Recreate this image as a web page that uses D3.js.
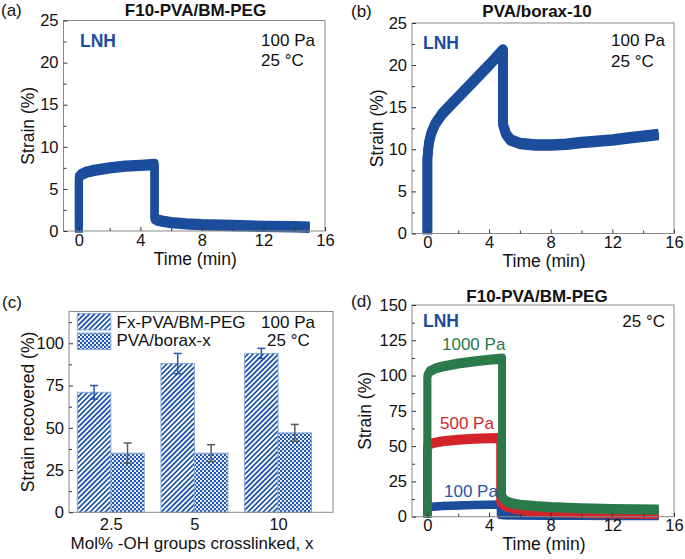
<!DOCTYPE html>
<html><head><meta charset="utf-8">
<script src="https://cdn.jsdelivr.net/npm/d3@7"></script>
<style>
body{margin:0;background:#fff}
svg{display:block}
text{font-family:'Liberation Sans',Arial,sans-serif;fill:#111}
</style>
</head><body>
<svg id="chart" width="685" height="559"></svg>
<script>
// ---------------- data ----------------
const timeTicks = [0, 4, 8, 12, 16];
const strainTicksAB = [0, 5, 10, 15, 20, 25];
const strainTicksD = [0, 25, 50, 75, 100, 125, 150];
const recoveredTicks = [0, 25, 50, 75, 100];

// (a) F10-PVA/BM-PEG, 100 Pa
const aTime   = [0, 0, 0.15, 0.5, 1, 2, 3, 4, 4.92, 4.92, 5.1, 5.5, 6, 7, 8, 10, 12, 14, 15];
const aStrain = [0, 6.4, 6.7, 7.0, 7.2, 7.5, 7.7, 7.8, 7.9, 1.5, 1.3, 1.15, 1.0, 0.85, 0.75, 0.65, 0.55, 0.5, 0.45];

// (b) PVA/borax-10, 100 Pa
const bTime   = [0, 0, 0.1, 0.25, 0.5, 1, 2, 3, 4, 4.9, 4.9, 5.1, 5.4, 6, 7, 8, 9, 10, 11, 12, 13, 14, 15];
const bStrain = [0, 9, 10.8, 11.9, 13.0, 14.3, 16.2, 18.1, 20.0, 21.8, 13, 11.8, 11.1, 10.7, 10.5, 10.5, 10.6, 10.8, 10.95, 11.1, 11.35, 11.55, 11.75];

// (c) strain recovered
const categories = ["2.5", "5", "10"];
const fxRecovered = [71, 88, 94];
const fxError = [4, 6, 3];
const boraxRecovered = [35, 35, 47];
const boraxError = [6, 5, 5];
const seriesNames = ["Fx-PVA/BM-PEG", "PVA/borax-x"];

// (d) F10-PVA/BM-PEG at three stresses
const dTime100   = [0, 0, 0.3, 1, 2, 3, 4, 4.75, 4.75, 5, 6, 8, 10, 12, 15];
const dStrain100 = [0, 6.5, 7, 7.5, 8, 8.3, 8.5, 8.6, 1.2, 1.0, 0.8, 0.7, 0.6, 0.55, 0.5];
const dTime500   = [0, 0, 0.2, 0.5, 1, 2, 3, 4, 4.75, 4.75, 5, 5.5, 6, 7, 8, 10, 12, 15];
const dStrain500 = [0, 50, 51.5, 52.5, 53.5, 54.5, 55.2, 55.6, 55.8, 10, 8, 6, 4.8, 3.7, 3.1, 2.6, 2.3, 2.0];
const dTime1000   = [0, 0, 0.15, 0.5, 1, 2, 3, 4, 4.85, 4.85, 5.1, 5.5, 6, 7, 8, 10, 12, 15];
const dStrain1000 = [0, 100, 103, 105, 106.5, 108.5, 110, 111.2, 112, 14, 11, 9.5, 8.5, 7.5, 6.8, 6.0, 5.5, 5.0];

// ---------------- style ----------------
const BLUE = "#1b4d9c", GREEN = "#2b7a4c", RED = "#d3242b", FRAME = "#8a8a8a";
const svg = d3.select("#chart");

function frame(g, x0, x1, y0, y1) {
  g.append("rect").attr("x", x0).attr("y", y0).attr("width", x1 - x0).attr("height", y1 - y0)
    .attr("fill", "none").attr("stroke", FRAME).attr("stroke-width", 1);
}

function yAxis(g, y, x0, ticks, minorStep, maxV) {
  const minor = d3.range(minorStep, maxV, minorStep).filter(v => !ticks.includes(v));
  g.append("g").attr("transform", `translate(${x0},0)`)
    .call(d3.axisLeft(y).tickValues(ticks).tickSizeInner(-4).tickSizeOuter(0).tickPadding(5))
    .call(s => { s.select(".domain").remove(); s.selectAll("text").style("font-size", "16.5px").attr("fill", "#111"); s.selectAll("line").attr("stroke", "#333"); });
  g.append("g").attr("transform", `translate(${x0},0)`)
    .call(d3.axisLeft(y).tickValues(minor).tickSizeInner(-3).tickSizeOuter(0).tickFormat(""))
    .call(s => { s.select(".domain").remove(); s.selectAll("line").attr("stroke", "#333"); });
}

function xTimeAxis(g, x, y1) {
  g.append("g").attr("transform", `translate(0,${y1})`)
    .call(d3.axisBottom(x).tickValues(timeTicks).tickSizeInner(-4).tickSizeOuter(0).tickPadding(3))
    .call(s => { s.select(".domain").remove(); s.selectAll("text").style("font-size", "16.5px").attr("fill", "#111"); s.selectAll("line").attr("stroke", "#333"); });
  g.append("g").attr("transform", `translate(0,${y1})`)
    .call(d3.axisBottom(x).tickValues([2, 6, 10, 14]).tickSizeInner(-3).tickSizeOuter(0).tickFormat(""))
    .call(s => { s.select(".domain").remove(); s.selectAll("line").attr("stroke", "#333"); });
}

function text(g, x, y, str, opts = {}) {
  const t = g.append("text").attr("x", x).attr("y", y).text(str)
    .style("font-size", (opts.size || 17) + "px");
  if (opts.bold) t.style("font-weight", "bold");
  if (opts.anchor) t.attr("text-anchor", opts.anchor);
  if (opts.fill) t.style("fill", opts.fill);
  if (opts.rotate) t.attr("transform", `rotate(-90,${x},${y})`);
  return t;
}

function curve(g, x, y, ts, vs, color, w, dy) {
  const ln = d3.line().x((d, i) => x(ts[i])).y(d => y(d)).curve(d3.curveLinear);
  [-dy, 0, dy].forEach(o => {
    g.append("path").attr("d", ln(vs)).attr("transform", `translate(0,${o})`)
      .attr("fill", "none").attr("stroke", color).attr("stroke-width", w)
      .attr("stroke-linejoin", "round").attr("stroke-linecap", "butt");
  });
}

function timePanel(cfg) {
  const g = svg.append("g");
  const x = d3.scaleLinear().domain([-1, 16]).range([cfg.x0, cfg.x1]);
  const y = d3.scaleLinear().domain([0, cfg.ymax]).range([cfg.y1, cfg.y0]);
  cfg.series.forEach(s => curve(g, x, y, s.t, s.v, s.color, s.w, s.dy));
  frame(g, cfg.x0, cfg.x1, cfg.y0, cfg.y1);
  yAxis(g, y, cfg.x0, cfg.yticks, cfg.minor, cfg.ymax);
  xTimeAxis(g, x, cfg.y1);
  text(g, (cfg.x0 + cfg.x1) / 2 + 1, cfg.y1 + 33.5, "Time (min)", { size: 17.5, anchor: "middle" });
  text(g, cfg.ylabX, (cfg.y0 + cfg.y1) / 2, "Strain (%)", { size: 17.5, anchor: "middle", rotate: true });
  return { g, x, y };
}

// (a)
const pa = timePanel({ x0: 63.5, x1: 325, y0: 20.5, y1: 231, ymax: 25, yticks: strainTicksAB, minor: 2.5, ylabX: 34,
  series: [{ t: aTime, v: aStrain, color: BLUE, w: 8, dy: 1.7 }] });
text(pa.g, 1, 16, "(a)", { size: 17 });
text(pa.g, 195.5, 15.5, "F10-PVA/BM-PEG", { size: 17, bold: true, anchor: "middle" });
text(pa.g, 80, 46.5, "LNH", { size: 17.5, bold: true, fill: BLUE });
text(pa.g, 315, 45.5, "100 Pa", { size: 17, anchor: "end" });
text(pa.g, 261, 66, "25 °C", { size: 17 });

// (b)
const pb = timePanel({ x0: 412, x1: 674, y0: 23, y1: 233.5, ymax: 25, yticks: strainTicksAB, minor: 2.5, ylabX: 383,
  series: [{ t: bTime, v: bStrain, color: BLUE, w: 9.5, dy: 1 }] });
text(pb.g, 351, 17, "(b)", { size: 17 });
text(pb.g, 537, 16.5, "PVA/borax-10", { size: 17, bold: true, anchor: "middle" });
text(pb.g, 423, 48.5, "LNH", { size: 17.5, bold: true, fill: BLUE });
text(pb.g, 665, 45.5, "100 Pa", { size: 17, anchor: "end" });
text(pb.g, 611, 67, "25 °C", { size: 17 });

// (d)
const pd = timePanel({ x0: 412, x1: 674, y0: 305, y1: 516.7, ymax: 150, yticks: strainTicksD, minor: 12.5, ylabX: 371,
  series: [
    { t: dTime100, v: dStrain100, color: BLUE, w: 7.5, dy: 0.5 },
    { t: dTime500, v: dStrain500, color: RED, w: 8, dy: 1 },
    { t: dTime1000, v: dStrain1000, color: GREEN, w: 7.5, dy: 1.3 }
  ] });
text(pd.g, 351, 307, "(d)", { size: 17 });
text(pd.g, 537, 301.5, "F10-PVA/BM-PEG", { size: 17, bold: true, anchor: "middle" });
text(pd.g, 423, 327, "LNH", { size: 17.5, bold: true, fill: BLUE });
text(pd.g, 665, 327, "25 °C", { size: 17, anchor: "end" });
text(pd.g, 442, 350, "1000 Pa", { size: 17, fill: GREEN });
text(pd.g, 440, 429, "500 Pa", { size: 17, fill: RED });
text(pd.g, 444, 497, "100 Pa", { size: 17, fill: "#2457a8" });

// (c) bars
(function () {
  const g = svg.append("g");
  const x0 = 69, x1 = 333, y0 = 311.5, y1 = 512.3;
  const defs = svg.append("defs");
  const stripe = defs.append("pattern").attr("id", "stripe").attr("patternUnits", "userSpaceOnUse")
    .attr("width", 3.6).attr("height", 3.6).attr("patternTransform", "rotate(45)");
  stripe.append("rect").attr("width", 3.6).attr("height", 3.6).attr("fill", "#fff");
  stripe.append("rect").attr("width", 1.8).attr("height", 3.6).attr("fill", "#2358ad");
  const cross = defs.append("pattern").attr("id", "cross").attr("patternUnits", "userSpaceOnUse")
    .attr("width", 4).attr("height", 4);
  cross.append("rect").attr("width", 4).attr("height", 4).attr("fill", "#2358ad");
  cross.append("circle").attr("cx", 1).attr("cy", 1).attr("r", 1.05).attr("fill", "#fff");
  cross.append("circle").attr("cx", 3).attr("cy", 3).attr("r", 1.05).attr("fill", "#fff");

  const xi = d3.scaleLinear().domain([0.5, 3.657]).range([x0, x1]);
  const y = d3.scaleLinear().domain([0, 118.8]).range([y1, y0]);
  const bw = 0.4;
  const groups = [
    { vals: fxRecovered, errs: fxError, fill: "url(#stripe)", off: -bw, ec: "#2358ad" },
    { vals: boraxRecovered, errs: boraxError, fill: "url(#cross)", off: 0, ec: "#5a5a5a" }
  ];
  groups.forEach(s => {
    g.selectAll(null).data(categories).enter().append("rect")
      .attr("x", (d, i) => xi(i + 1 + s.off)).attr("width", xi(bw) - xi(0))
      .attr("y", (d, i) => y(s.vals[i])).attr("height", (d, i) => y(0) - y(s.vals[i]))
      .attr("fill", s.fill).attr("stroke", "#86a9dc").attr("stroke-width", 1);
  });
  groups.forEach(s => {
    categories.forEach((c, i) => {
      const cx = xi(i + 1 + s.off + bw / 2);
      const top = y(s.vals[i] + s.errs[i]), bot = y(s.vals[i] - s.errs[i]);
      g.append("line").attr("x1", cx).attr("x2", cx).attr("y1", top).attr("y2", bot).attr("stroke", s.ec).attr("stroke-width", 1.5);
      [top, bot].forEach(yy => g.append("line").attr("x1", cx - 4).attr("x2", cx + 4).attr("y1", yy).attr("y2", yy).attr("stroke", s.ec).attr("stroke-width", 1.5));
    });
  });
  frame(g, x0, x1, y0, y1);
  yAxis(g, y, x0, recoveredTicks, 12.5, 118.8);
  g.append("g").attr("transform", `translate(0,${y1})`)
    .call(d3.axisBottom(xi).tickValues([1, 2, 3]).tickFormat((d, i) => categories[i]).tickSize(0).tickPadding(6))
    .call(s => { s.select(".domain").remove(); s.selectAll("text").style("font-size", "16.5px").attr("fill", "#111"); });
  text(g, 192, 549, "Mol% -OH groups crosslinked, x", { size: 17, anchor: "middle" });
  text(g, 34, (y0 + y1) / 2, "Strain recovered (%)", { size: 17.5, anchor: "middle", rotate: true });
  text(g, 2, 308, "(c)", { size: 17 });
  // legend
  const lx = xi(1 - bw), lw = xi(bw) - xi(0);
  [[313.5, "url(#stripe)"], [333, "url(#cross)"]].forEach((r, k) => {
    g.append("rect").attr("x", lx).attr("y", r[0]).attr("width", lw).attr("height", 16.5)
      .attr("fill", r[1]).attr("stroke", "#86a9dc");
    text(g, 116.5, k ? 346 : 327.5, seriesNames[k], { size: 17 });
  });
  text(g, 315, 327.5, "100 Pa", { size: 17, anchor: "end" });
  text(g, 267, 346, "25 °C", { size: 17 });
})();
</script>
</body></html>
